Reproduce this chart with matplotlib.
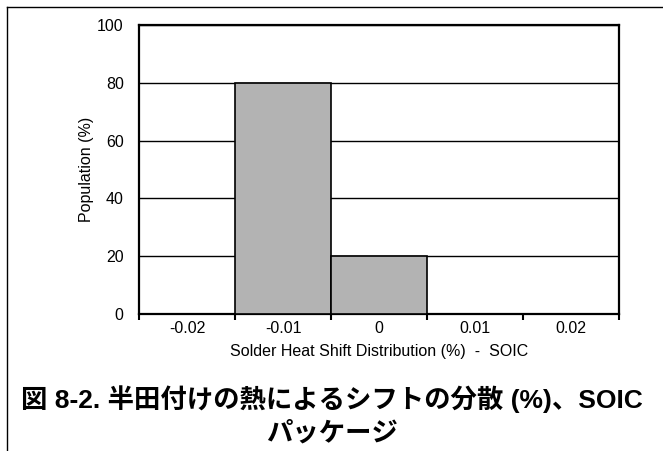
import matplotlib
matplotlib.use("Agg")
import matplotlib.pyplot as plt

# histogram of solder heat shift, SOIC package
bins = ["-0.02", "-0.01", "0", "0.01", "0.02"]
population = [0, 80, 20, 0, 0]
y_ticks = [0, 20, 40, 60, 80, 100]

x_title = "Solder Heat Shift Distribution (%)  -  SOIC"
y_title = "Population (%)"
caption = "図 8-2. 半田付けの熱によるシフトの分散 (%)、SOIC\nパッケージ"

plt.rcParams["font.family"] = ["Liberation Sans", "DejaVu Sans"]

fig = plt.figure(figsize=(6.63, 4.51), dpi=100)
W, H = 663, 451
ax = fig.add_axes([139 / W, 1 - 314 / H, (619 - 139) / W, (314 - 25) / H])

pos = list(range(len(bins)))
ax.bar(pos, population, width=1.0, color="#b3b3b3", edgecolor="black",
       linewidth=1.2, zorder=3)

ax.set_xlim(-0.5, len(bins) - 0.5)
ax.set_ylim(0, 100)
ax.set_yticks(y_ticks)
ax.set_yticklabels([str(v) for v in y_ticks], fontsize=11.5)
ax.tick_params(axis="y", length=0, pad=11)

# ticks sit on bin edges, labels in bin centres
ax.set_xticks([p - 0.5 for p in pos] + [len(bins) - 0.5])
ax.set_xticklabels([])
ax.set_xticks(pos, minor=True)
ax.set_xticklabels(bins, minor=True, fontsize=11.5)
ax.tick_params(axis="x", which="major", length=4, width=1.5, direction="out")
ax.tick_params(axis="x", which="minor", length=0, pad=5)

ax.grid(axis="y", color="black", linewidth=1.0, zorder=1)
for s in ax.spines.values():
    s.set_linewidth(1.6)

ax.set_xlabel(x_title, fontsize=11.5, labelpad=6)
ax.set_ylabel(y_title, fontsize=11.5, labelpad=2)

# frame around the figure (left and top only)
fig.add_artist(plt.Line2D([7 / W, 7 / W], [0, 1 - 7 / H], transform=fig.transFigure,
                          color="black", linewidth=1.0))
fig.add_artist(plt.Line2D([7 / W, 1], [1 - 7 / H, 1 - 7 / H], transform=fig.transFigure,
                          color="black", linewidth=1.0))

fig.text(0.5, 1 - 415 / H, caption, ha="center", va="center", fontsize=19,
         fontweight="bold", linespacing=1.42,
         family=["Liberation Sans", "Noto Sans CJK JP"])

fig.savefig("out.png", dpi=100)
